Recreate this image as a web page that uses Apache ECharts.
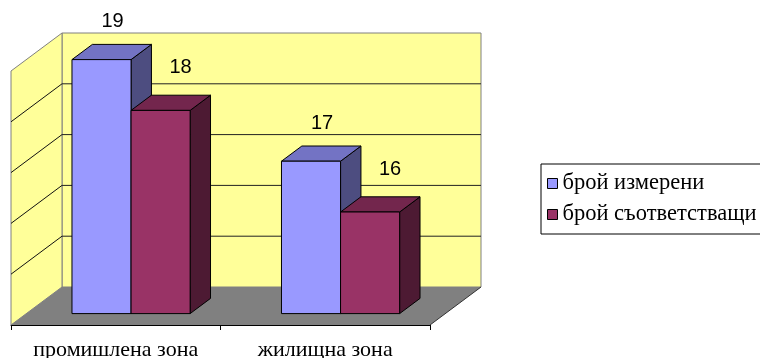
<!DOCTYPE html>
<html>
<head>
<meta charset="utf-8">
<script src="https://cdn.jsdelivr.net/npm/echarts@6/dist/echarts.min.js"></script>
<style>
  html, body { margin: 0; padding: 0; background: #ffffff; }
  #chart { width: 760px; height: 358px; }
</style>
</head>
<body>
<div id="chart"></div>
<script>
// Data
const categories = ['промишлена зона', 'жилищна зона'];
const seriesNames = ['брой измерени', 'брой съответстващи'];
const measured = [19, 17];
const compliant = [18, 16];
const valueTicks = [14, 15, 16, 17, 18, 19];

// Oblique projection: full depth of the floor, from the front edge to the back wall
const DEPTH = [51, -38];
const BAR_FRONT = 0.3;
const BAR_BACK = 0.7;
const SERIF = 'Liberation Serif';

function shift(pt, d) {
  return [pt[0] + DEPTH[0] * d, pt[1] + DEPTH[1] * d];
}

// Walls, floor and gridlines, derived from the grid rectangle and value axis
function renderFrame(params, api) {
  const cs = params.coordSys;
  const xL = cs.x, xR = cs.x + cs.width, yT = cs.y, yB = cs.y + cs.height;
  const wall = '#FFFF99';
  const edge = '#808080';
  const children = [];

  children.push({
    type: 'polygon',
    shape: { points: [shift([xL, yT], 1), shift([xR, yT], 1), shift([xR, yB], 1), shift([xL, yB], 1)] },
    style: { fill: wall, stroke: edge, lineWidth: 1 }
  });
  children.push({
    type: 'polygon',
    shape: { points: [[xL, yT], shift([xL, yT], 1), shift([xL, yB], 1), [xL, yB]] },
    style: { fill: wall, stroke: edge, lineWidth: 1 }
  });

  valueTicks.slice(1, -1).forEach(function (v) {
    const y = api.coord([0, v])[1];
    children.push({
      type: 'line',
      shape: { x1: shift([xL, y], 1)[0], y1: shift([xL, y], 1)[1], x2: shift([xR, y], 1)[0], y2: shift([xR, y], 1)[1] },
      style: { stroke: '#222222', lineWidth: 1 }
    });
    children.push({
      type: 'line',
      shape: { x1: xL, y1: y, x2: shift([xL, y], 1)[0], y2: shift([xL, y], 1)[1] },
      style: { stroke: '#111111', lineWidth: 1 }
    });
  });

  children.push({
    type: 'polygon',
    shape: { points: [[xL, yB], [xR, yB], shift([xR, yB], 1), shift([xL, yB], 1)] },
    style: { fill: '#808080' }
  });
  children.push({
    type: 'line',
    shape: { x1: xR, y1: yB, x2: shift([xR, yB], 1)[0], y2: shift([xR, yB], 1)[1] },
    style: { stroke: '#333333', lineWidth: 1 }
  });

  return { type: 'group', children: children };
}

// A box-shaped bar: front, top and right side faces plus its value label
function boxRenderer(slot, colors, labelShift) {
  return function (params, api) {
    const cat = api.value(0);
    const val = api.value(1);
    const base = api.coord([cat, valueTicks[0]]);
    const top = api.coord([cat, val]);
    const w = api.size([1, 0])[0] * 0.282;
    const x0 = slot === 0 ? base[0] - w : base[0];
    const x1 = x0 + w;
    const yb = base[1], yt = top[1];
    const f = function (p) { return shift(p, BAR_FRONT); };
    const b = function (p) { return shift(p, BAR_BACK); };
    const line = { stroke: '#000000', lineWidth: 1, lineJoin: 'miter' };
    const labelPos = f([(x0 + x1) / 2 + labelShift[0], yt + labelShift[1]]);
    return {
      type: 'group',
      children: [
        { type: 'polygon', shape: { points: [f([x1, yb]), b([x1, yb]), b([x1, yt]), f([x1, yt])] },
          style: Object.assign({ fill: colors.side }, line) },
        { type: 'polygon', shape: { points: [f([x0, yt]), f([x1, yt]), b([x1, yt]), b([x0, yt])] },
          style: Object.assign({ fill: colors.top }, line) },
        { type: 'polygon', shape: { points: [f([x0, yb]), f([x1, yb]), f([x1, yt]), f([x0, yt])] },
          style: Object.assign({ fill: colors.front }, line) },
        { type: 'text', x: labelPos[0], y: labelPos[1],
          style: { text: String(val), fill: '#000000', fontFamily: 'Liberation Sans', fontSize: 20,
                   align: 'center', verticalAlign: 'middle' } }
      ]
    };
  };
}

const blue = { front: '#9999FF', top: '#7373C4', side: '#4D4D80' };
const wine = { front: '#993366', top: '#73264D', side: '#4D1A33' };

const chart = echarts.init(document.getElementById('chart'), null, { renderer: 'canvas' });
chart.setOption({
  animation: false,
  backgroundColor: '#ffffff',
  grid: { left: 11, top: 71, width: 419, height: 254, outerBoundsMode: 'none' },
  xAxis: {
    type: 'category',
    data: categories,
    axisLine: { lineStyle: { color: '#000000', width: 1 } },
    axisTick: { show: true, length: 5, lineStyle: { color: '#000000' } },
    axisLabel: { color: '#000000', fontFamily: SERIF, fontSize: 22, margin: 14,
                 interval: 0, hideOverlap: false },
    splitLine: { show: false }
  },
  yAxis: {
    type: 'value',
    min: valueTicks[0],
    max: valueTicks[valueTicks.length - 1],
    interval: 1,
    show: false
  },
  legend: {
    orient: 'vertical',
    left: 541,
    top: 164,
    data: seriesNames,
    icon: 'rect',
    itemWidth: 10,
    itemHeight: 10,
    itemGap: 8,
    padding: [8, 12, 8, 6],
    borderColor: '#000000',
    borderWidth: 1,
    itemStyle: { borderColor: '#000000', borderWidth: 1 },
    textStyle: { color: '#000000', fontFamily: SERIF, fontSize: 22.5 }
  },
  series: [
    {
      type: 'custom',
      name: 'frame',
      clip: false,
      silent: true,
      z: 1,
      data: [[0, valueTicks[0]]],
      renderItem: renderFrame
    },
    {
      type: 'custom',
      name: seriesNames[0],
      clip: false,
      z: 2,
      itemStyle: { color: blue.front },
      encode: { x: 0, y: 1 },
      data: measured.map(function (v, i) { return [i, v]; }),
      renderItem: boxRenderer(0, blue, [11, -38])
    },
    {
      type: 'custom',
      name: seriesNames[1],
      clip: false,
      z: 3,
      itemStyle: { color: wine.front },
      encode: { x: 0, y: 1 },
      data: compliant.map(function (v, i) { return [i, v]; }),
      renderItem: boxRenderer(1, wine, [20, -43])
    }
  ]
});
</script>
</body>
</html>
